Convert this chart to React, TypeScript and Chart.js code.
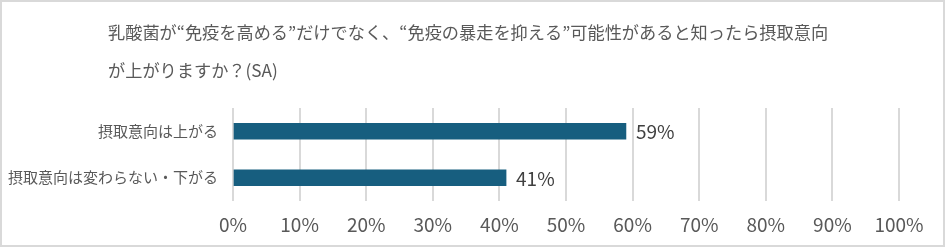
import React, { useEffect, useRef } from "react";
import { Chart, registerables } from "chart.js";

Chart.register(...registerables);

const TITLE_LINES = [
  "乳酸菌が“免疫を高める”だけでなく、“免疫の暴走を抑える”可能性があると知ったら摂取意向",
  "が上がりますか？(SA)",
];
const CATEGORIES = ["摂取意向は上がる", "摂取意向は変わらない・下がる"];
const VALUES = [59, 41];
const X_MIN = 0;
const X_MAX = 100;
const X_STEP = 10;

const FONT = '"Noto Sans CJK JP", "Noto Sans", sans-serif';

const framePlugin = {
  id: "frame",
  beforeDraw(chart: any) {
    const ctx = chart.ctx;
    ctx.save();
    ctx.fillStyle = "#ffffff";
    ctx.fillRect(0, 0, chart.width, chart.height);
    ctx.strokeStyle = "#d9d9d9";
    ctx.lineWidth = 2;
    ctx.strokeRect(1, 1, 943, 245);
    ctx.restore();
  },
  afterDraw(chart: any) {
    const ctx = chart.ctx;
    ctx.save();
    ctx.fillStyle = "#595959";
    ctx.font = `17.2px ${FONT}`;
    ctx.textAlign = "left";
    ctx.textBaseline = "middle";
    const ys = [32, 70];
    TITLE_LINES.forEach((line, i) => ctx.fillText(line, 108, ys[i]));
    ctx.restore();
  },
};

const labelPlugin = {
  id: "barLabels",
  afterDatasetsDraw(chart: any) {
    const ctx = chart.ctx;
    const meta = chart.getDatasetMeta(0);
    ctx.save();
    ctx.fillStyle = "#404040";
    ctx.font = `19px ${FONT}`;
    ctx.textAlign = "left";
    ctx.textBaseline = "middle";
    meta.data.forEach((bar: any, i: number) => {
      ctx.fillText(`${VALUES[i]}%`, bar.x + 10, bar.y + 1);
    });
    ctx.restore();
  },
};

export default function App() {
  const ref = useRef<HTMLCanvasElement>(null);
  useEffect(() => {
    document.body.style.margin = "0";
    const chart = new Chart(ref.current!, {
      type: "bar",
      data: {
        labels: CATEGORIES,
        datasets: [
          {
            data: VALUES,
            backgroundColor: "#175e7f",
            barThickness: 16,
          },
        ],
      },
      options: {
        indexAxis: "y",
        responsive: false,
        animation: false,
        devicePixelRatio: 1,
        layout: { padding: { left: 0, right: 48, top: 108, bottom: 0 } },
        plugins: {
          legend: { display: false },
          title: { display: false },
          tooltip: { enabled: false },
        },
        scales: {
          x: {
            min: X_MIN,
            max: X_MAX,
            ticks: {
              stepSize: X_STEP,
              callback: (v: any) => `${v}%`,
              color: "#595959",
              font: { family: FONT, size: 19 },
              padding: 12,
            },
            grid: { color: "#d9d9d9", lineWidth: 2, drawTicks: false },
            border: { display: false },
            afterFit: (s: any) => {
              s.height = 49;
            },
          },
          y: {
            ticks: {
              color: "#595959",
              font: { family: FONT, size: 15 },
              padding: 7,
            },
            grid: { display: false },
            border: { display: false },
            afterFit: (s: any) => {
              s.width = 233;
            },
          },
        },
      },
      plugins: [framePlugin, labelPlugin],
    });
    return () => chart.destroy();
  }, []);
  return (
    <div style={{ position: "absolute", left: 0, top: 0, width: 947, height: 250 }}>
      <canvas ref={ref} width={947} height={250} />
    </div>
  );
}
